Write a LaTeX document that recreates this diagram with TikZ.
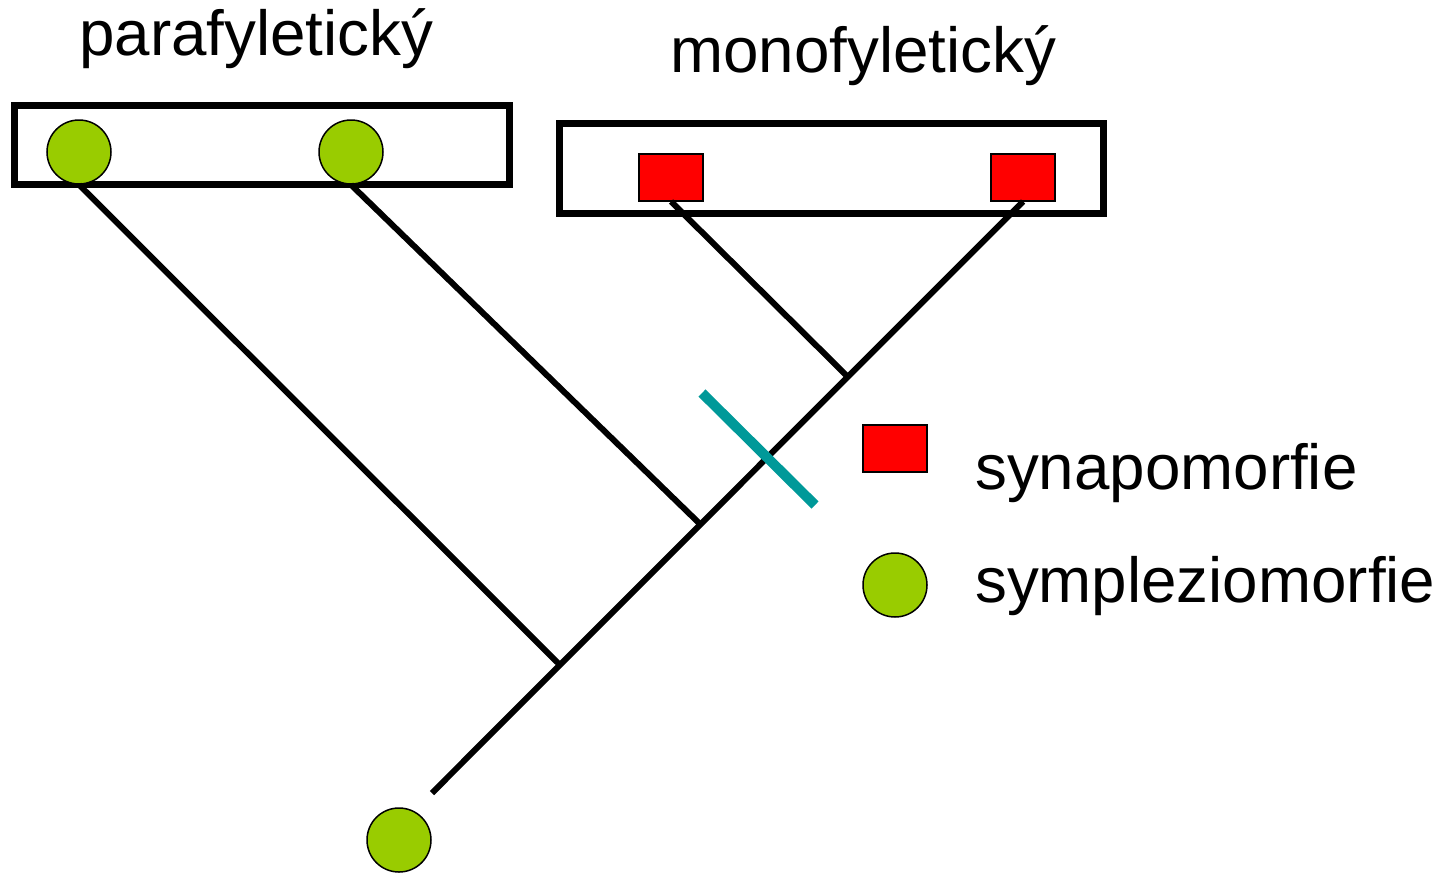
\documentclass[tikz,border=0pt]{standalone}
\usepackage{fontspec}
\setmainfont{Liberation Sans}
\definecolor{sgreen}{RGB}{153,204,0}
\definecolor{steal}{RGB}{0,153,153}
\begin{document}
\begin{tikzpicture}[x=1pt,y=-1pt,
  font=\fontsize{63.7}{76}\selectfont,
  frame/.style={draw=black,line width=7pt},
  plesio/.style={circle,draw=black,line width=1.5pt,fill=sgreen,minimum size=64pt,inner sep=0pt},
  apo/.style={rectangle,draw=black,line width=2pt,fill=red,minimum width=64pt,minimum height=47pt,inner sep=0pt},
  branch/.style={line width=6pt,draw=black},
  mark bar/.style={line width=10pt,draw=steal},
  lbl/.style={anchor=base west,inner sep=0pt}]
\useasboundingbox (0,0) rectangle (1453,873);
% boxes
\draw[frame] (14.5,105) rectangle (509,184);
\draw[frame] (559,123) rectangle (1103,213);
% taxa
\node[plesio] (c1) at (79,152) {};
\node[plesio] (c2) at (351,152) {};
\node[apo] (s1) at (671,177) {};
\node[apo] (s2) at (1023,177) {};
\node[plesio] (c0) at (399,840) {};
% tree
\coordinate (root) at (432,793);
\coordinate (j1) at (559.5,664.5);
\coordinate (j2) at (700,524);
\coordinate (j3) at (847.5,376.5);
\draw[branch] (s2.south) -- (root);
\draw[branch] (c1.south) -- (j1);
\draw[branch] (c2.south) -- (j2);
\draw[branch] (s1.south) -- (j3);
% synapomorphy bar
\coordinate (b1) at (702,393);
\coordinate (b2) at (815,505);
\draw[mark bar] (b1) -- (b2);
% titles
\node[lbl] (tpara) at (79,55) {parafyletický};
\node[lbl] (tmono) at (670,72) {monofyletický};
% legend
\node[apo] (ls) at (895,448) {};
\node[plesio] (lc) at (895,585) {};
\node[lbl] (tsyn) at (975,489) {synapomorfie};
\node[lbl] (tsym) at (975,602) {sympleziomorfie};
\end{tikzpicture}
\end{document}
